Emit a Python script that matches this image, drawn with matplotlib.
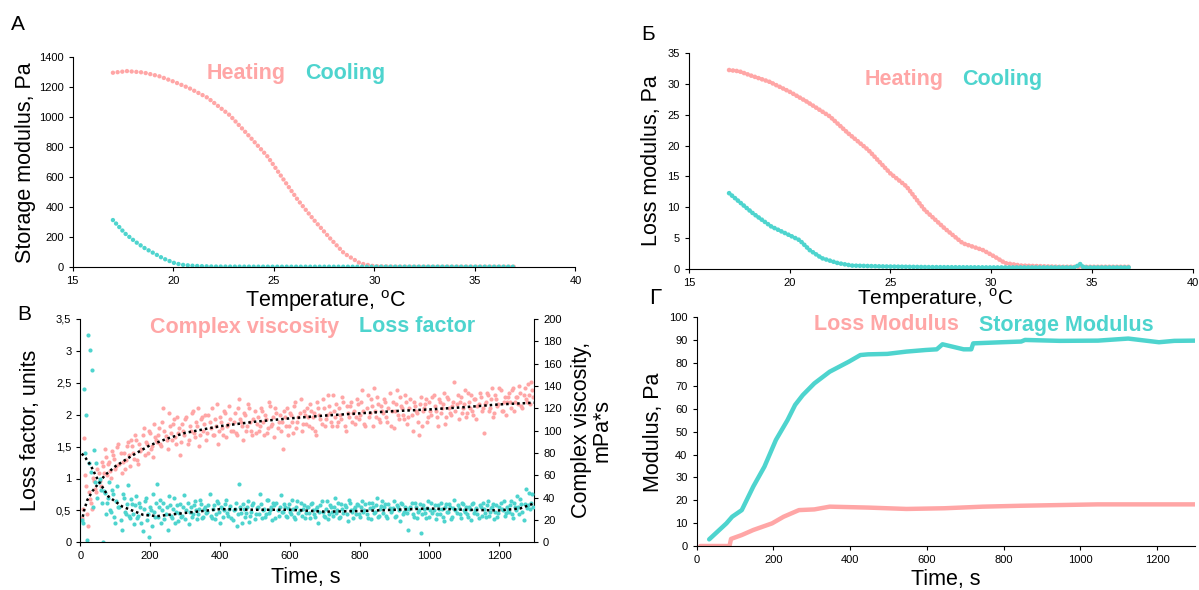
import numpy as np
import matplotlib
matplotlib.use("Agg")
import matplotlib.pyplot as plt

plt.rcParams["font.family"] = ["Liberation Sans", "DejaVu Sans"]
plt.rcParams["mathtext.fontset"] = "custom"
plt.rcParams["mathtext.rm"] = "Liberation Sans"

PINK = "#FFA6A6"
TEAL = "#4ED4CE"

# -------------------------
# Data
# -------------------------
# A: storage modulus vs temperature
heat_temp_a = [17.0, 17.7, 18.5, 19.3, 20.0, 20.8, 21.7, 22.8, 23.8, 24.7, 25.5,
               26.2, 27.0, 27.8, 28.5, 29.3, 30.0, 31.0, 33.0, 35.0, 37.0]
heat_g_a = [1293, 1304, 1295, 1270, 1235, 1190, 1127, 1011, 867, 733, 578,
            444, 311, 189, 89, 22, 3, 0, 0, 0, 0]
cool_temp_a = [17.0, 17.6, 18.1, 18.6, 19.1, 19.5, 20.1, 20.5, 20.9, 21.5, 22.0, 25.0, 30.0, 37.0]
cool_g_a = [311, 222, 168, 122, 85, 55, 22, 12, 7, 3, 1, 0, 0, 0]

# Б: loss modulus vs temperature
heat_temp_b = [17.0, 17.5, 18.0, 19.0, 20.0, 20.85, 22.0, 22.9, 23.9, 25.0, 25.8,
               26.7, 27.7, 28.6, 29.6, 30.2, 30.7, 31.5, 33.4, 35.0, 37.0]
heat_g_b = [32.2, 32.0, 31.4, 30.3, 28.7, 27.1, 24.7, 22.0, 19.3, 15.5, 13.4,
            9.6, 6.6, 4.2, 3.1, 2.0, 1.0, 0.6, 0.4, 0.4, 0.4]
cool_temp_b = [17.0, 18.2, 19.1, 20.0, 20.5, 21.0, 21.6, 22.4, 23.1, 24.8, 27.0,
               30.0, 34.2, 34.4, 34.6, 37.0]
cool_g_b = [12.3, 9.0, 6.9, 5.5, 4.7, 3.1, 1.8, 1.0, 0.6, 0.45, 0.35,
            0.3, 0.3, 0.9, 0.3, 0.3]

# B: complex viscosity (mPa*s) and loss factor vs time, two interleaved 6 s samplings
time_b1 = np.arange(4, 1300, 6)
time_b2 = np.arange(7, 1300, 6)
viscosity_1 = [
    22, 93, 50, 15, 39, 30, 55, 45, 62, 50, 68, 84,
    60, 72, 58, 78, 66, 85, 70, 62, 80, 74, 90, 68,
    86, 75, 92, 70, 82, 96, 78, 88, 100, 84, 76, 94,
    90, 102, 86, 120, 95, 84, 104, 92, 110, 88, 98, 78,
    106, 96, 112, 92, 100, 118, 94, 104, 86, 110, 100, 114,
    98, 108, 120, 96, 104, 88, 112, 102, 118, 94, 106, 110,
    100, 116, 96, 128, 108, 92, 114, 104, 120, 100, 110, 98,
    112, 104, 118, 96, 110, 102, 122, 106, 94, 116, 108, 100,
    84, 112, 120, 104, 114, 98, 126, 108, 116, 100, 118, 106,
    112, 124, 102, 116, 96, 120, 110, 128, 104, 114, 122, 108,
    132, 112, 104, 120, 110, 126, 100, 116, 122, 108, 118, 112,
    124, 114, 136, 106, 120, 112, 128, 104, 118, 130, 110, 122,
    116, 126, 108, 134, 118, 102, 124, 114, 130, 120, 110, 126,
    112, 128, 100, 122, 116, 96, 130, 118, 124, 108, 126, 114,
    132, 118, 104, 126, 120, 134, 112, 128, 116, 122, 144, 124,
    110, 130, 120, 136, 116, 126, 132, 114, 128, 122, 134, 118,
    98, 126, 132, 120, 138, 116, 128, 124, 136, 118, 130, 126,
    134, 120, 138, 126, 130, 140, 122, 132, 128, 142, 124, 136,
]
viscosity_2 = [
    30, 60, 25, 45, 35, 58, 48, 66, 55, 72, 62, 76,
    70, 64, 82, 75, 68, 88, 80, 72, 66, 86, 78, 92,
    80, 96, 74, 88, 84, 102, 90, 80, 98, 86, 106, 92,
    96, 88, 108, 100, 92, 116, 98, 106, 94, 112, 102, 90,
    100, 110, 88, 104, 116, 98, 108, 120, 96, 112, 106, 92,
    114, 102, 96, 110, 124, 100, 108, 96, 116, 104, 122, 100,
    108, 98, 120, 110, 104, 116, 100, 124, 108, 96, 118, 106,
    100, 120, 108, 114, 98, 126, 104, 112, 120, 102, 114, 108,
    118, 104, 96, 116, 108, 122, 102, 112, 128, 106, 114, 120,
    104, 118, 112, 100, 126, 114, 106, 120, 110, 132, 116, 104,
    118, 124, 108, 114, 130, 104, 122, 112, 126, 116, 106, 128,
    110, 126, 118, 104, 132, 116, 122, 138, 112, 124, 108, 118,
    128, 112, 120, 104, 126, 118, 136, 110, 122, 114, 132, 106,
    120, 114, 126, 118, 108, 124, 104, 120, 128, 112, 118, 130,
    122, 112, 128, 116, 124, 106, 130, 120, 114, 126, 118, 132,
    126, 116, 124, 112, 134, 120, 118, 128, 110, 124, 130, 120,
    124, 134, 118, 128, 112, 132, 122, 138, 118, 126, 114, 130,
    126, 136, 118, 130, 124, 134, 120, 138, 126, 132, 144, 130,
]
loss_factor_1 = [
    0.35, 2.40, 2.00, 3.25, 3.02, 2.70, 1.45, 1.24, 0.95, 0.82, 0.00, 0.77,
    0.62, 0.95, 0.48, 0.75, 0.30, 0.88, 0.56, 0.20, 0.70, 0.45, 0.90, 0.38,
    0.60, 0.28, 0.72, 0.42, 0.55, 0.18, 0.65, 0.35, 0.08, 0.50, 0.76, 0.40,
    0.92, 0.55, 0.30, 0.62, 0.45, 0.20, 0.58, 0.38, 0.70, 0.48, 0.33, 0.60,
    0.42, 0.74, 0.50, 0.28, 0.56, 0.45, 0.65, 0.36, 0.52, 0.60, 0.40, 0.55,
    0.48, 0.75, 0.38, 0.58, 0.44, 0.62, 0.30, 0.54, 0.50, 0.66, 0.42, 0.57,
    0.35, 0.52, 0.25, 0.92, 0.46, 0.60, 0.40, 0.55, 0.32, 0.48, 0.62, 0.44,
    0.56, 0.75, 0.38, 0.52, 0.45, 0.66, 0.50, 0.35, 0.58, 0.62, 0.42, 0.74,
    0.48, 0.55, 0.40, 0.60, 0.45, 0.52, 0.36, 0.64, 0.50, 0.42, 0.58, 0.46,
    0.55, 0.38, 0.62, 0.44, 0.52, 0.30, 0.58, 0.48, 0.40, 0.65, 0.45, 0.55,
    0.42, 0.70, 0.50, 0.38, 0.60, 0.46, 0.56, 0.34, 0.62, 0.48, 0.52, 0.44,
    0.58, 0.40, 0.65, 0.50, 0.45, 0.62, 0.36, 0.55, 0.48, 0.70, 0.42, 0.57,
    0.46, 0.60, 0.38, 0.54, 0.50, 0.64, 0.42, 0.56, 0.33, 0.60, 0.48, 0.52,
    0.20, 0.56, 0.44, 0.62, 0.38, 0.50, 0.15, 0.58, 0.46, 0.54, 0.40, 0.62,
    0.50, 0.36, 0.58, 0.44, 0.52, 0.34, 0.60, 0.48, 0.55, 0.40, 0.66, 0.46,
    0.54, 0.38, 0.60, 0.48, 0.44, 0.56, 0.35, 0.62, 0.50, 0.45, 0.58, 0.42,
    0.52, 0.40, 0.64, 0.48, 0.55, 0.36, 0.58, 0.46, 0.62, 0.50, 0.42, 0.56,
    0.48, 0.65, 0.38, 0.55, 0.72, 0.45, 0.60, 0.35, 0.84, 0.58, 0.52, 0.76,
]
loss_factor_2 = [
    0.30, 1.40, 0.04, 1.24, 1.10, 0.55, 0.95, 0.70, 1.00, 0.62, 0.80, 0.45,
    0.70, 0.50, 0.82, 0.40, 0.65, 0.55, 0.35, 0.75, 0.48, 0.60, 0.42, 0.68,
    0.45, 0.58, 0.38, 0.62, 0.30, 0.52, 0.70, 0.44, 0.55, 0.25, 0.48, 0.62,
    0.40, 0.66, 0.50, 0.36, 0.56, 0.72, 0.42, 0.52, 0.30, 0.58, 0.46, 0.40,
    0.55, 0.36, 0.62, 0.48, 0.40, 0.58, 0.50, 0.44, 0.66, 0.38, 0.52, 0.46,
    0.58, 0.42, 0.52, 0.36, 0.64, 0.48, 0.55, 0.40, 0.60, 0.46, 0.52, 0.38,
    0.50, 0.62, 0.44, 0.56, 0.30, 0.52, 0.46, 0.64, 0.42, 0.58, 0.36, 0.54,
    0.44, 0.60, 0.50, 0.40, 0.66, 0.46, 0.55, 0.62, 0.38, 0.50, 0.56, 0.48,
    0.60, 0.42, 0.54, 0.48, 0.66, 0.40, 0.56, 0.46, 0.62, 0.52, 0.38, 0.55,
    0.46, 0.60, 0.50, 0.40, 0.56, 0.48, 0.64, 0.42, 0.52, 0.36, 0.58, 0.48,
    0.56, 0.46, 0.62, 0.40, 0.52, 0.58, 0.44, 0.66, 0.50, 0.38, 0.56, 0.60,
    0.44, 0.56, 0.48, 0.60, 0.38, 0.54, 0.62, 0.46, 0.58, 0.40, 0.52, 0.64,
    0.56, 0.42, 0.60, 0.48, 0.54, 0.40, 0.58, 0.50, 0.62, 0.44, 0.56, 0.46,
    0.52, 0.62, 0.40, 0.56, 0.48, 0.60, 0.44, 0.52, 0.38, 0.64, 0.50, 0.46,
    0.58, 0.44, 0.52, 0.62, 0.40, 0.56, 0.48, 0.60, 0.36, 0.54, 0.50, 0.58,
    0.44, 0.62, 0.50, 0.56, 0.40, 0.52, 0.60, 0.46, 0.54, 0.38, 0.56, 0.62,
    0.46, 0.58, 0.42, 0.54, 0.60, 0.48, 0.40, 0.56, 0.52, 0.64, 0.46, 0.50,
    0.58, 0.44, 0.62, 0.50, 0.56, 0.68, 0.48, 0.60, 0.54, 0.78, 0.62, 0.56,
]

visc_trend_time = [4, 10, 20, 35, 50, 70, 100, 150, 200, 250, 300, 400, 500,
                   600, 700, 800, 900, 1000, 1100, 1200, 1300]
visc_trend = [18, 28, 38, 46, 52, 60, 68, 78, 87, 93, 98, 104, 108,
              111, 113.5, 115.5, 117.5, 119, 121, 123.5, 125]
lf_trend_time = [4, 15, 30, 50, 80, 120, 180, 220, 300, 400, 500, 600, 700,
                 800, 900, 1000, 1100, 1200, 1260, 1300]
lf_trend = [1.39, 1.32, 1.20, 0.98, 0.72, 0.56, 0.43, 0.41, 0.46, 0.52, 0.51, 0.51, 0.48,
            0.49, 0.51, 0.53, 0.51, 0.50, 0.53, 0.61]
lf_tick_labels = ["0", "0,5", "1", "1,5", "2", "2,5", "3", "3,5"]

# Г: moduli vs time
stor_time = [33, 78, 93, 118, 148, 177, 207, 237, 257, 277, 307, 347, 397, 427, 447,
             497, 547, 597, 626, 641, 666, 696, 716, 721, 796, 846, 856, 946, 1046,
             1125, 1155, 1205, 1245, 1300]
stor_mod = [2.9, 9.9, 12.8, 15.7, 26.0, 34.7, 46.4, 55.0, 61.7, 66.0, 71.1, 76.2, 80.6,
            83.5, 83.8, 84.0, 85.0, 85.7, 86.0, 88.2, 87.2, 86.0, 86.0, 88.6, 89.1, 89.4,
            90.1, 89.7, 89.8, 90.7, 90.1, 89.1, 89.7, 89.8]
loss_time = [10, 86, 90, 118, 148, 197, 227, 267, 307, 347, 447, 547, 646, 746, 846, 1045, 1300]
loss_mod = [0, 0, 3.1, 4.8, 7.0, 9.9, 12.8, 15.7, 16.0, 17.2, 16.8, 16.2, 16.5, 17.2,
            17.6, 18.2, 18.2]

# -------------------------
# Layout helpers (pixel -> figure fraction)
# -------------------------
W, H = 1199, 590
fig = plt.figure(figsize=(W / 100, H / 100), dpi=100)


def box(left, top, right, bottom):
    return [left / W, 1 - bottom / H, (right - left) / W, (bottom - top) / H]


def ftext(x, y, s, **kw):
    fig.text(x / W, 1 - y / H, s, ha="center", va="center", **kw)


def style(ax, right=False):
    for side in ["top", "right"]:
        ax.spines[side].set_visible(False)
    if right:
        ax.spines["right"].set_visible(True)
    ax.tick_params(labelsize=8, length=3, width=0.8, direction="out")


LAB = 15.5
LEG = dict(fontsize=15.5, fontweight="bold")
TEMP_LABEL = "Temperature, $^{\\mathrm{o}}$C"

# -------------------------
# Panel A
# -------------------------
dot_a = dict(linestyle=(0, (0.01, 1.05)), dash_capstyle="round", linewidth=3.2)
ax = fig.add_axes(box(72.7, 56.7, 575.4, 266.7))
ax.plot(heat_temp_a, heat_g_a, color=PINK, **dot_a)
ax.plot(cool_temp_a, cool_g_a, color=TEAL, **dot_a)
ax.set_xlim(15, 40)
ax.set_ylim(0, 1400)
ax.set_xticks(range(15, 41, 5))
ax.set_yticks(range(0, 1401, 200))
style(ax)
ftext(18, 25, "A", fontsize=15)
ftext(26, 163, "Storage modulus, Pa", fontsize=LAB, rotation=90)
ftext(325, 301, TEMP_LABEL, fontsize=LAB)
ftext(246, 73, "Heating", color=PINK, **LEG)
ftext(345, 73, "Cooling", color=TEAL, **LEG)

# -------------------------
# Panel Б
# -------------------------
dot_b = dict(linestyle=(0, (0.01, 0.8)), dash_capstyle="round", linewidth=3.4)
ax = fig.add_axes(box(688.8, 52.7, 1192.6, 269.3))
ax.plot(heat_temp_b, heat_g_b, color=PINK, **dot_b)
ax.plot(cool_temp_b, cool_g_b, color=TEAL, **dot_b)
ax.set_xlim(15, 40)
ax.set_ylim(0, 35)
ax.set_xticks(range(15, 41, 5))
ax.set_yticks(range(0, 36, 5))
style(ax)
ftext(648, 35, "Б", fontsize=15)
ftext(652, 161, "Loss modulus, Pa", fontsize=LAB, rotation=90)
ftext(935, 299, TEMP_LABEL, fontsize=15)
ftext(904, 79, "Heating", color=PINK, **LEG)
ftext(1002, 79, "Cooling", color=TEAL, **LEG)

# -------------------------
# Panel B
# -------------------------
ax = fig.add_axes(box(80.4, 319, 534, 542.3))
ax2 = ax.twinx()
for tt, vv in [(time_b1, viscosity_1), (time_b2, viscosity_2)]:
    ax2.scatter(tt, vv, s=9, color=PINK, linewidths=0, zorder=1)
for tt, vv in [(time_b1, loss_factor_1), (time_b2, loss_factor_2)]:
    ax.scatter(tt, vv, s=9, color=TEAL, linewidths=0, zorder=2)
ax2.plot(visc_trend_time, visc_trend, color="black", linestyle=(0, (1, 1.2)), linewidth=1.8)
ax.plot(lf_trend_time, lf_trend, color="black", linestyle=(0, (1, 1.2)), linewidth=1.8, zorder=3)
ax.set_zorder(ax2.get_zorder() + 1)
ax.patch.set_visible(False)
ax.set_xlim(0, 1300)
ax.set_ylim(0, 3.5)
ax2.set_ylim(0, 200)
ax.set_xticks(range(0, 1201, 200))
ax.set_yticks(np.arange(0, 3.51, 0.5))
ax.set_yticklabels(lf_tick_labels)
ax2.set_yticks(range(0, 201, 20))
style(ax)
style(ax2, right=True)
ax2.spines["left"].set_visible(False)
ax2.spines["bottom"].set_visible(False)
ftext(24, 314, "B", fontsize=15)
ftext(31, 430, "Loss factor, units", fontsize=LAB, rotation=90)
ftext(592, 430, "Complex viscosity,\nmPa*s", fontsize=LAB, rotation=90, linespacing=1.0)
ftext(306, 578, "Time, s", fontsize=LAB)
ftext(245, 327, "Complex viscosity", color=PINK, **LEG)
ftext(417, 327, "Loss factor", color=TEAL, **LEG)

# -------------------------
# Panel Г
# -------------------------
ax = fig.add_axes(box(696.5, 317.3, 1195.4, 546))
ax.plot(stor_time, stor_mod, color=TEAL, linewidth=3.2, solid_capstyle="round")
ax.plot(loss_time, loss_mod, color=PINK, linewidth=3.2, solid_capstyle="round")
ax.set_xlim(0, 1300)
ax.set_ylim(0, 100)
ax.set_xticks(range(0, 1201, 200))
ax.set_yticks(range(0, 101, 10))
style(ax)
ftext(655, 298, "Г", fontsize=16)
ftext(654, 432, "Modulus, Pa", fontsize=LAB, rotation=90)
ftext(946, 580, "Time, s", fontsize=LAB)
ftext(886, 325, "Loss Modulus", color=PINK, **LEG)
ftext(1066, 325, "Storage Modulus", color=TEAL, **LEG)

fig.savefig("out.png", dpi=100)
